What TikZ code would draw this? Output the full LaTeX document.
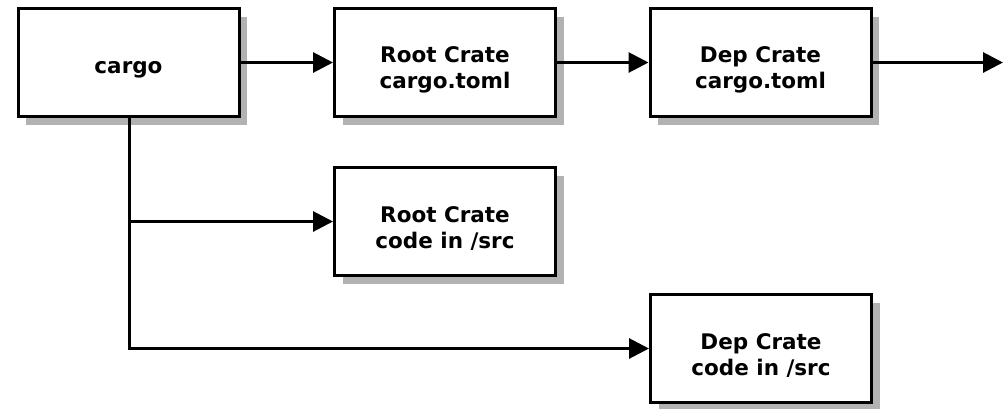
\documentclass[tikz,border=0pt]{standalone}
\usepackage{fontspec}
\setmainfont{DejaVu Sans}
\usetikzlibrary{arrows.meta,shadows}
\begin{document}
\begin{tikzpicture}[x=1pt,y=-1pt,
  box/.style={draw=black,line width=3pt,fill=white,minimum width=221pt,minimum height=108pt,
    inner sep=0pt,
    drop shadow={shadow xshift=8pt,shadow yshift=-8pt,fill=black!30,opacity=1}},
  boxtext/.style={align=center,inner sep=0pt,font=\bfseries\fontsize{21.5}{26}\selectfont,yshift=-7pt},
  conn/.style={line width=3pt,-{Triangle[length=20pt,width=20pt]}}]
\useasboundingbox (0,0) rectangle (1004,408);
\node[box,label={[boxtext,name=cargoL]center:cargo}] (cargo) at (128.5,62.5) {};
\node[box,label={[boxtext,name=rootTL]center:Root Crate\\cargo.toml}] (rootT) at (445,62.5) {};
\node[box,label={[boxtext,name=depTL]center:Dep Crate\\cargo.toml}] (depT) at (760.5,62.5) {};
\node[box,label={[boxtext,name=rootSL]center:Root Crate\\code in /src}] (rootS) at (445,221.5) {};
\node[box,label={[boxtext,name=depSL]center:Dep Crate\\code in /src}] (depS) at (761,348.5) {};
\coordinate (out) at (1003,62.5);
\draw[conn] (cargo) -- (rootT);
\draw[conn] (rootT) -- (depT);
\draw[conn] (depT) -- (out);
\draw[conn] (cargo.south -| 129,0) |- (rootS.west);
\draw[conn] (cargo.south -| 129,0) |- (depS.west);
\end{tikzpicture}
\end{document}
